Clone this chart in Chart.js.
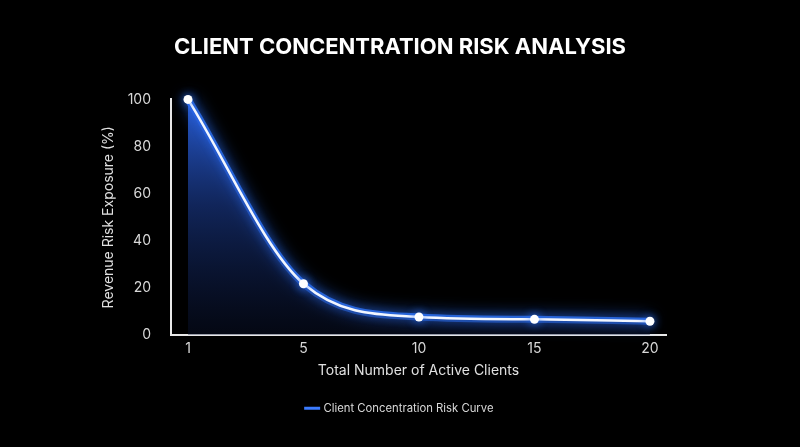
<!DOCTYPE html>
<html>
<head>
<meta charset="utf-8">
<script src="https://cdn.jsdelivr.net/npm/chart.js@4/dist/chart.umd.min.js"></script>
<style>
  html, body { margin: 0; padding: 0; background: #000; }
  #wrap { width: 800px; height: 447px; position: relative; }
</style>
</head>
<body>
<div id="wrap"><canvas id="c"></canvas></div>
<script>
const categories = ['1', '5', '10', '15', '20'];
const riskValues = [100, 21.8, 7.7, 6.7, 5.9];
const yTicks = [0, 20, 40, 60, 80, 100];
const titleText = 'CLIENT CONCENTRATION RISK ANALYSIS';
const xTitle = 'Total Number of Active Clients';
const yTitle = 'Revenue Risk Exposure (%)';
const seriesName = 'Client Concentration Risk Curve';

const FONT = 'Inter, Lato, "Open Sans", sans-serif';

const glowPlugin = {
  id: 'glow',
  beforeDatasetDraw(chart, args) {
    const ctx = chart.ctx;
    ctx.save();
    ctx.shadowColor = 'rgba(45,115,255,1)';
    ctx.shadowBlur = args.index === 0 ? 10 : 16;
  },
  afterDatasetDraw(chart) {
    chart.ctx.restore();
  }
};

const bgPlugin = {
  id: 'bg',
  beforeDraw(chart) {
    const ctx = chart.ctx;
    ctx.save();
    ctx.fillStyle = '#000';
    ctx.fillRect(0, 0, chart.width, chart.height);
    ctx.restore();
  }
};

const points = riskValues.map((v, i) => ({ x: i, y: v }));

new Chart(document.getElementById('c'), {
  type: 'line',
  data: {
    datasets: [{
      label: seriesName,
      data: points,
      order: 0,
      borderColor: '#f2f6ff',
      borderWidth: 2.5,
      cubicInterpolationMode: 'monotone',
      pointRadius: 4.5,
      pointBackgroundColor: '#ffffff',
      pointBorderColor: '#ffffff',
      pointBorderWidth: 0,
      clip: false,
      fill: 'origin',
      backgroundColor(c) {
        const ca = c.chart.chartArea;
        if (!ca) return 'rgba(40,100,235,0.5)';
        const g = c.chart.ctx.createLinearGradient(0, ca.top, 0, ca.bottom);
        g.addColorStop(0, 'rgba(42,100,230,0.92)');
        g.addColorStop(0.45, 'rgba(28,62,150,0.6)');
        g.addColorStop(1, 'rgba(12,22,55,0.35)');
        return g;
      }
    }, {
      label: 'glow',
      data: points,
      order: 1,
      borderColor: 'rgba(50,120,255,0.75)',
      borderWidth: 7,
      cubicInterpolationMode: 'monotone',
      pointRadius: 0,
      clip: false,
      fill: false
    }]
  },
  options: {
    responsive: true,
    maintainAspectRatio: false,
    animation: false,
    layout: { padding: { left: 100, right: 100, top: 34, bottom: 23 } },
    scales: {
      x: {
        type: 'linear',
        min: -0.147,
        max: 4.139,
        grid: { display: false, drawTicks: false },
        border: { display: true, color: '#e8e8e8', width: 2 },
        afterBuildTicks(s) { s.ticks = categories.map((c, i) => ({ value: i })); },
        ticks: {
          color: '#d8d8d8',
          font: { family: FONT, size: 14 },
          padding: 5,
          callback: (v) => categories[v]
        },
        title: {
          display: true, text: xTitle, color: '#e0e0e0',
          font: { family: FONT, size: 14 }, padding: { top: 0, bottom: 4 }
        }
      },
      y: {
        min: 0, max: 100,
        afterBuildTicks(s) { s.ticks = yTicks.map(v => ({ value: v })); },
        afterFit(s) { s.width = 71; },
        grid: { display: false, drawTicks: false },
        border: { display: true, color: '#e8e8e8', width: 2 },
        ticks: {
          color: '#d8d8d8',
          font: { family: FONT, size: 14 },
          padding: 20
        },
        title: {
          display: true, text: yTitle, color: '#e0e0e0',
          font: { family: FONT, size: 14 }, padding: { top: 0, bottom: 0 }
        }
      },
      yRight: {
        position: 'right',
        display: true,
        grid: { display: false, drawTicks: false },
        border: { display: false },
        ticks: { display: false },
        afterFit(s) { s.width = 34; }
      }
    },
    plugins: {
      title: {
        display: true, text: titleText, color: '#ffffff',
        font: { family: FONT, size: 22, weight: 'bold' },
        padding: { top: 0, bottom: 39 }
      },
      legend: {
        position: 'bottom',
        labels: {
          color: '#d8d8d8',
          font: { family: FONT, size: 11.3 },
          usePointStyle: true,
          pointStyle: 'line',
          padding: 20,
          filter: (item) => item.datasetIndex === 0,
          generateLabels(chart) {
            const items = Chart.defaults.plugins.legend.labels.generateLabels(chart);
            items.forEach(it => {
              it.strokeStyle = '#3b7bff';
              it.fillStyle = '#3b7bff';
              it.lineWidth = 3;
              it.pointStyle = 'line';
            });
            return items;
          }
        }
      },
      tooltip: { enabled: false }
    }
  },
  plugins: [bgPlugin, glowPlugin]
});
</script>
</body>
</html>
